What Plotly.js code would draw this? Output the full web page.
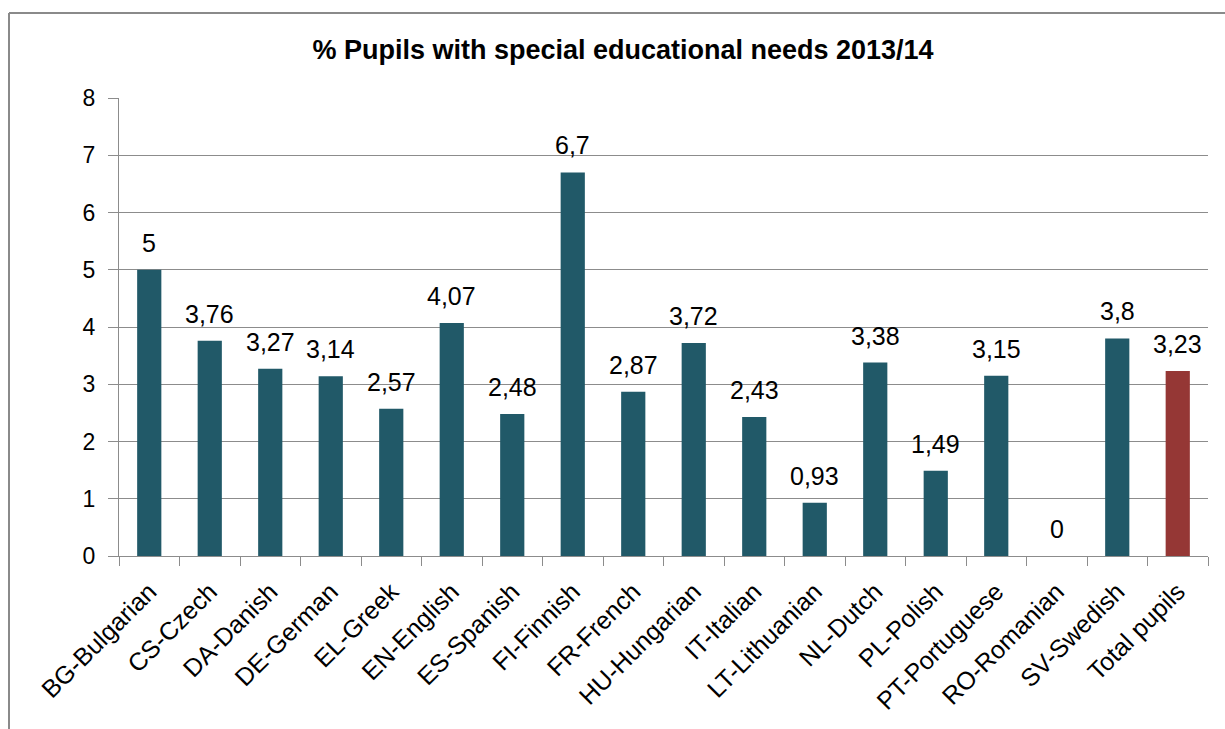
<!DOCTYPE html>
<html>
<head>
<meta charset="utf-8">
<script src="https://cdn.plot.ly/plotly-3.0.1.min.js"></script>
<style>
html,body{margin:0;padding:0;background:#fff;}
#chart{width:1225px;height:729px;}
</style>
</head>
<body>
<div id="chart"></div>
<script>
var categories = ["BG-Bulgarian","CS-Czech","DA-Danish","DE-German","EL-Greek","EN-English","ES-Spanish","FI-Finnish","FR-French","HU-Hungarian","IT-Italian","LT-Lithuanian","NL-Dutch","PL-Polish","PT-Portuguese","RO-Romanian","SV-Swedish","Total pupils"];
var values = [5, 3.76, 3.27, 3.14, 2.57, 4.07, 2.48, 6.7, 2.87, 3.72, 2.43, 0.93, 3.38, 1.49, 3.15, 0, 3.8, 3.23];
var yTicks = [0,1,2,3,4,5,6,7,8];
var barColor = "#215968";
var totalColor = "#953735";
var totalLabel = "Total pupils";

var W = 1225, H = 729;
var mL = 119, mR = 17, mT = 98, mB = 173;
var pw = W - mL - mR, ph = H - mT - mB;
function px2x(p){ return (p - mL) / pw; }
function py2y(p){ return (H - mB - p) / ph; }
var FONT = 'Liberation Sans, Arial, sans-serif';

var colors = categories.map(function(c){ return c === totalLabel ? totalColor : barColor; });
var labels = values.map(function(v){ return String(v).replace('.', ','); });

var trace = {
  type: 'bar',
  x: categories,
  y: values,
  marker: {color: colors, line: {width: 0}},
  hoverinfo: 'x+y'
};

var annotations = categories.map(function(c, i){
  return {
    x: c, y: values[i], xref: 'x', yref: 'y',
    text: labels[i], showarrow: false,
    yanchor: 'bottom', yshift: 11,
    font: {family: FONT, size: 25, color: '#000'}
  };
});

var layout = {
  width: W, height: H,
  margin: {l: mL, r: mR, t: mT, b: mB, pad: 0},
  paper_bgcolor: '#fff', plot_bgcolor: '#fff',
  showlegend: false,
  bargap: 0.6,
  font: {family: FONT, color: '#000'},
  title: {
    text: '% Pupils with special educational needs 2013/14',
    font: {family: FONT, size: 27, color: '#000', weight: 'bold'},
    x: 623 / W, xref: 'container', xanchor: 'center',
    y: 1 - 50 / H, yref: 'container', yanchor: 'middle'
  },
  xaxis: {
    type: 'category',
    tickangle: -45,
    tickson: 'boundaries',
    ticks: 'outside', ticklen: 9, tickcolor: '#8c8c8c', tickwidth: 1,
    ticklabelstandoff: 10,
    showline: true, linecolor: '#8c8c8c', linewidth: 1,
    showgrid: false,
    tickfont: {family: FONT, size: 25, color: '#000'},
    fixedrange: true
  },
  yaxis: {
    range: [0, 8],
    tickvals: yTicks,
    ticktext: yTicks.map(String),
    ticks: 'outside', ticklen: 10, tickcolor: '#8c8c8c', tickwidth: 1,
    ticklabelstandoff: 8,
    showline: true, linecolor: '#8c8c8c', linewidth: 1,
    showgrid: true, gridcolor: '#8c8c8c', gridwidth: 1,
    zeroline: false,
    tickfont: {family: FONT, size: 23, color: '#000'},
    fixedrange: true
  },
  annotations: annotations,
  shapes: [
    {type: 'line', xref: 'paper', yref: 'paper', x0: px2x(9), x1: px2x(9), y0: py2y(13), y1: py2y(740), line: {color: '#8a8a8a', width: 2}},
    {type: 'line', xref: 'paper', yref: 'paper', x0: px2x(9), x1: px2x(1240), y0: py2y(13), y1: py2y(13), line: {color: '#8a8a8a', width: 2}}
  ]
};

Plotly.newPlot('chart', [trace], layout, {displayModeBar: false, staticPlot: true});
</script>
</body>
</html>
